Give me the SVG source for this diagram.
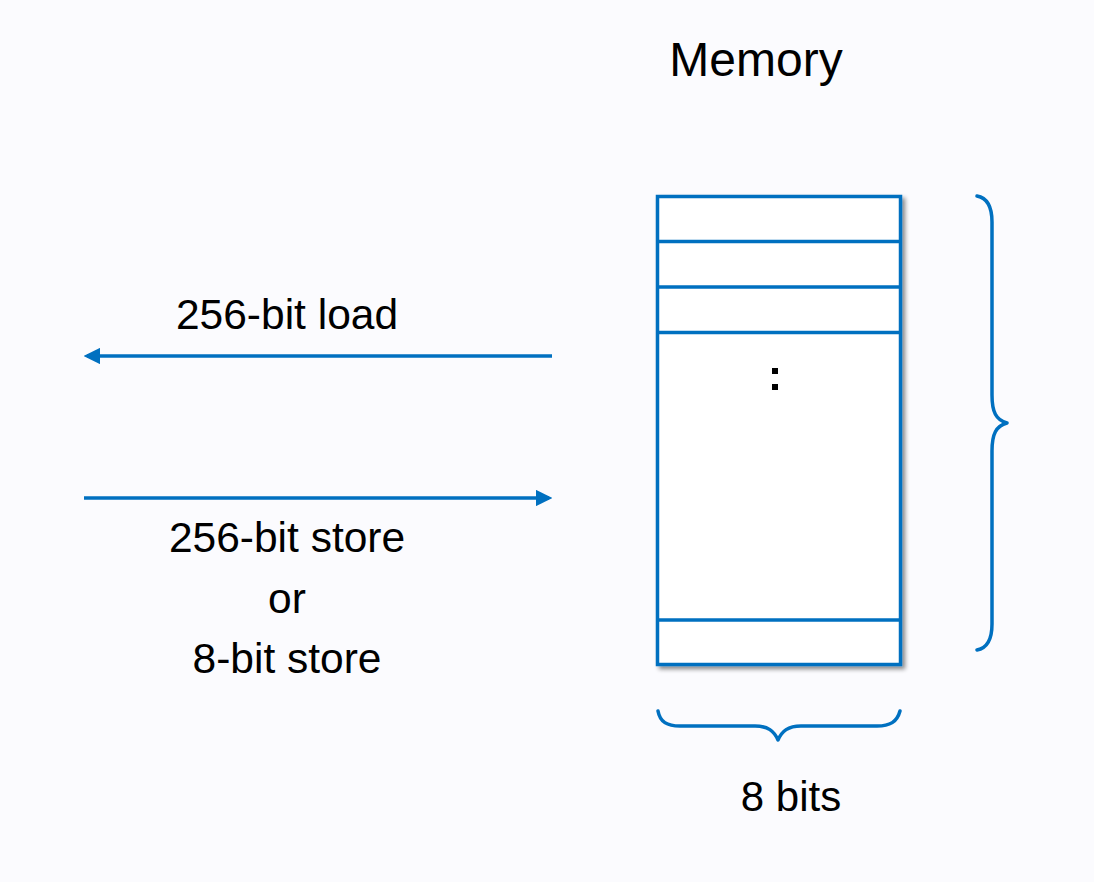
<svg xmlns="http://www.w3.org/2000/svg" width="1094" height="882" viewBox="0 0 1094 882">
<defs>
<style>
.t{font-family:"Liberation Sans",Arial,sans-serif;fill:#000;text-anchor:middle}
.b{stroke:#0070C0;stroke-width:3.5;fill:none}
.br{stroke:#0070C0;stroke-width:3.5;fill:none;stroke-linecap:round;stroke-linejoin:round}
</style>
<marker id="ah" markerWidth="5" markerHeight="5" refX="4" refY="2.5" orient="auto" markerUnits="strokeWidth">
<path d="M0,0 L5,2.5 L0,5 z" fill="#0070C0"/>
</marker>
<filter id="sh" x="-10%" y="-10%" width="130%" height="130%">
<feGaussianBlur in="SourceAlpha" stdDeviation="2"/>
<feOffset dx="3" dy="3" result="o"/>
<feComponentTransfer><feFuncA type="linear" slope="0.45"/></feComponentTransfer>
<feMerge><feMergeNode/><feMergeNode in="SourceGraphic"/></feMerge>
</filter>
</defs>
<rect width="1094" height="882" fill="#FBFBFE"/>
<text class="t" x="756" y="76" font-size="48">Memory</text>
<g id="memory">
<rect x="657.5" y="196.5" width="243" height="468" fill="#fff" stroke="#0070C0" stroke-width="3.5" filter="url(#sh)"/>
<line class="b" x1="657.5" y1="241.5" x2="900.5" y2="241.5"/>
<line class="b" x1="657.5" y1="287" x2="900.5" y2="287"/>
<line class="b" x1="657.5" y1="332.5" x2="900.5" y2="332.5"/>
<line class="b" x1="657.5" y1="620" x2="900.5" y2="620"/>
<rect x="772" y="368" width="6" height="6" fill="#000"/>
<rect x="772" y="384" width="6" height="6" fill="#000"/>
</g>
<g id="brace-right">
<path class="br" d="M977,196 C988,198 992,208 992,222 L992,395 C992,412 996,420 1007,423 C996,426 992,434 992,451 L992,624 C992,638 988,648 977,650"/>
</g>
<g id="brace-bottom">
<path class="br" d="M658,711 C660,722 667,726 680,726 L755,726 C768,726 774,731 778,740 C782,731 788,726 801,726 L877,726 C890,726 897,722 900,711"/>
<text class="t" x="791" y="811" font-size="42">8 bits</text>
</g>
<g id="connectors">
<line x1="552" y1="356" x2="87" y2="356" stroke="#0070C0" stroke-width="3.3" marker-end="url(#ah)"/>
<line x1="84" y1="498" x2="549" y2="498" stroke="#0070C0" stroke-width="3.3" marker-end="url(#ah)"/>
</g>
<g id="labels">
<text class="t" x="287" y="329" font-size="42.5">256-bit load</text>
<text class="t" x="287" y="552" font-size="42.5">256-bit store</text>
<text class="t" x="287" y="613" font-size="42.5">or</text>
<text class="t" x="287" y="673" font-size="42.5">8-bit store</text>
</g>
</svg>
